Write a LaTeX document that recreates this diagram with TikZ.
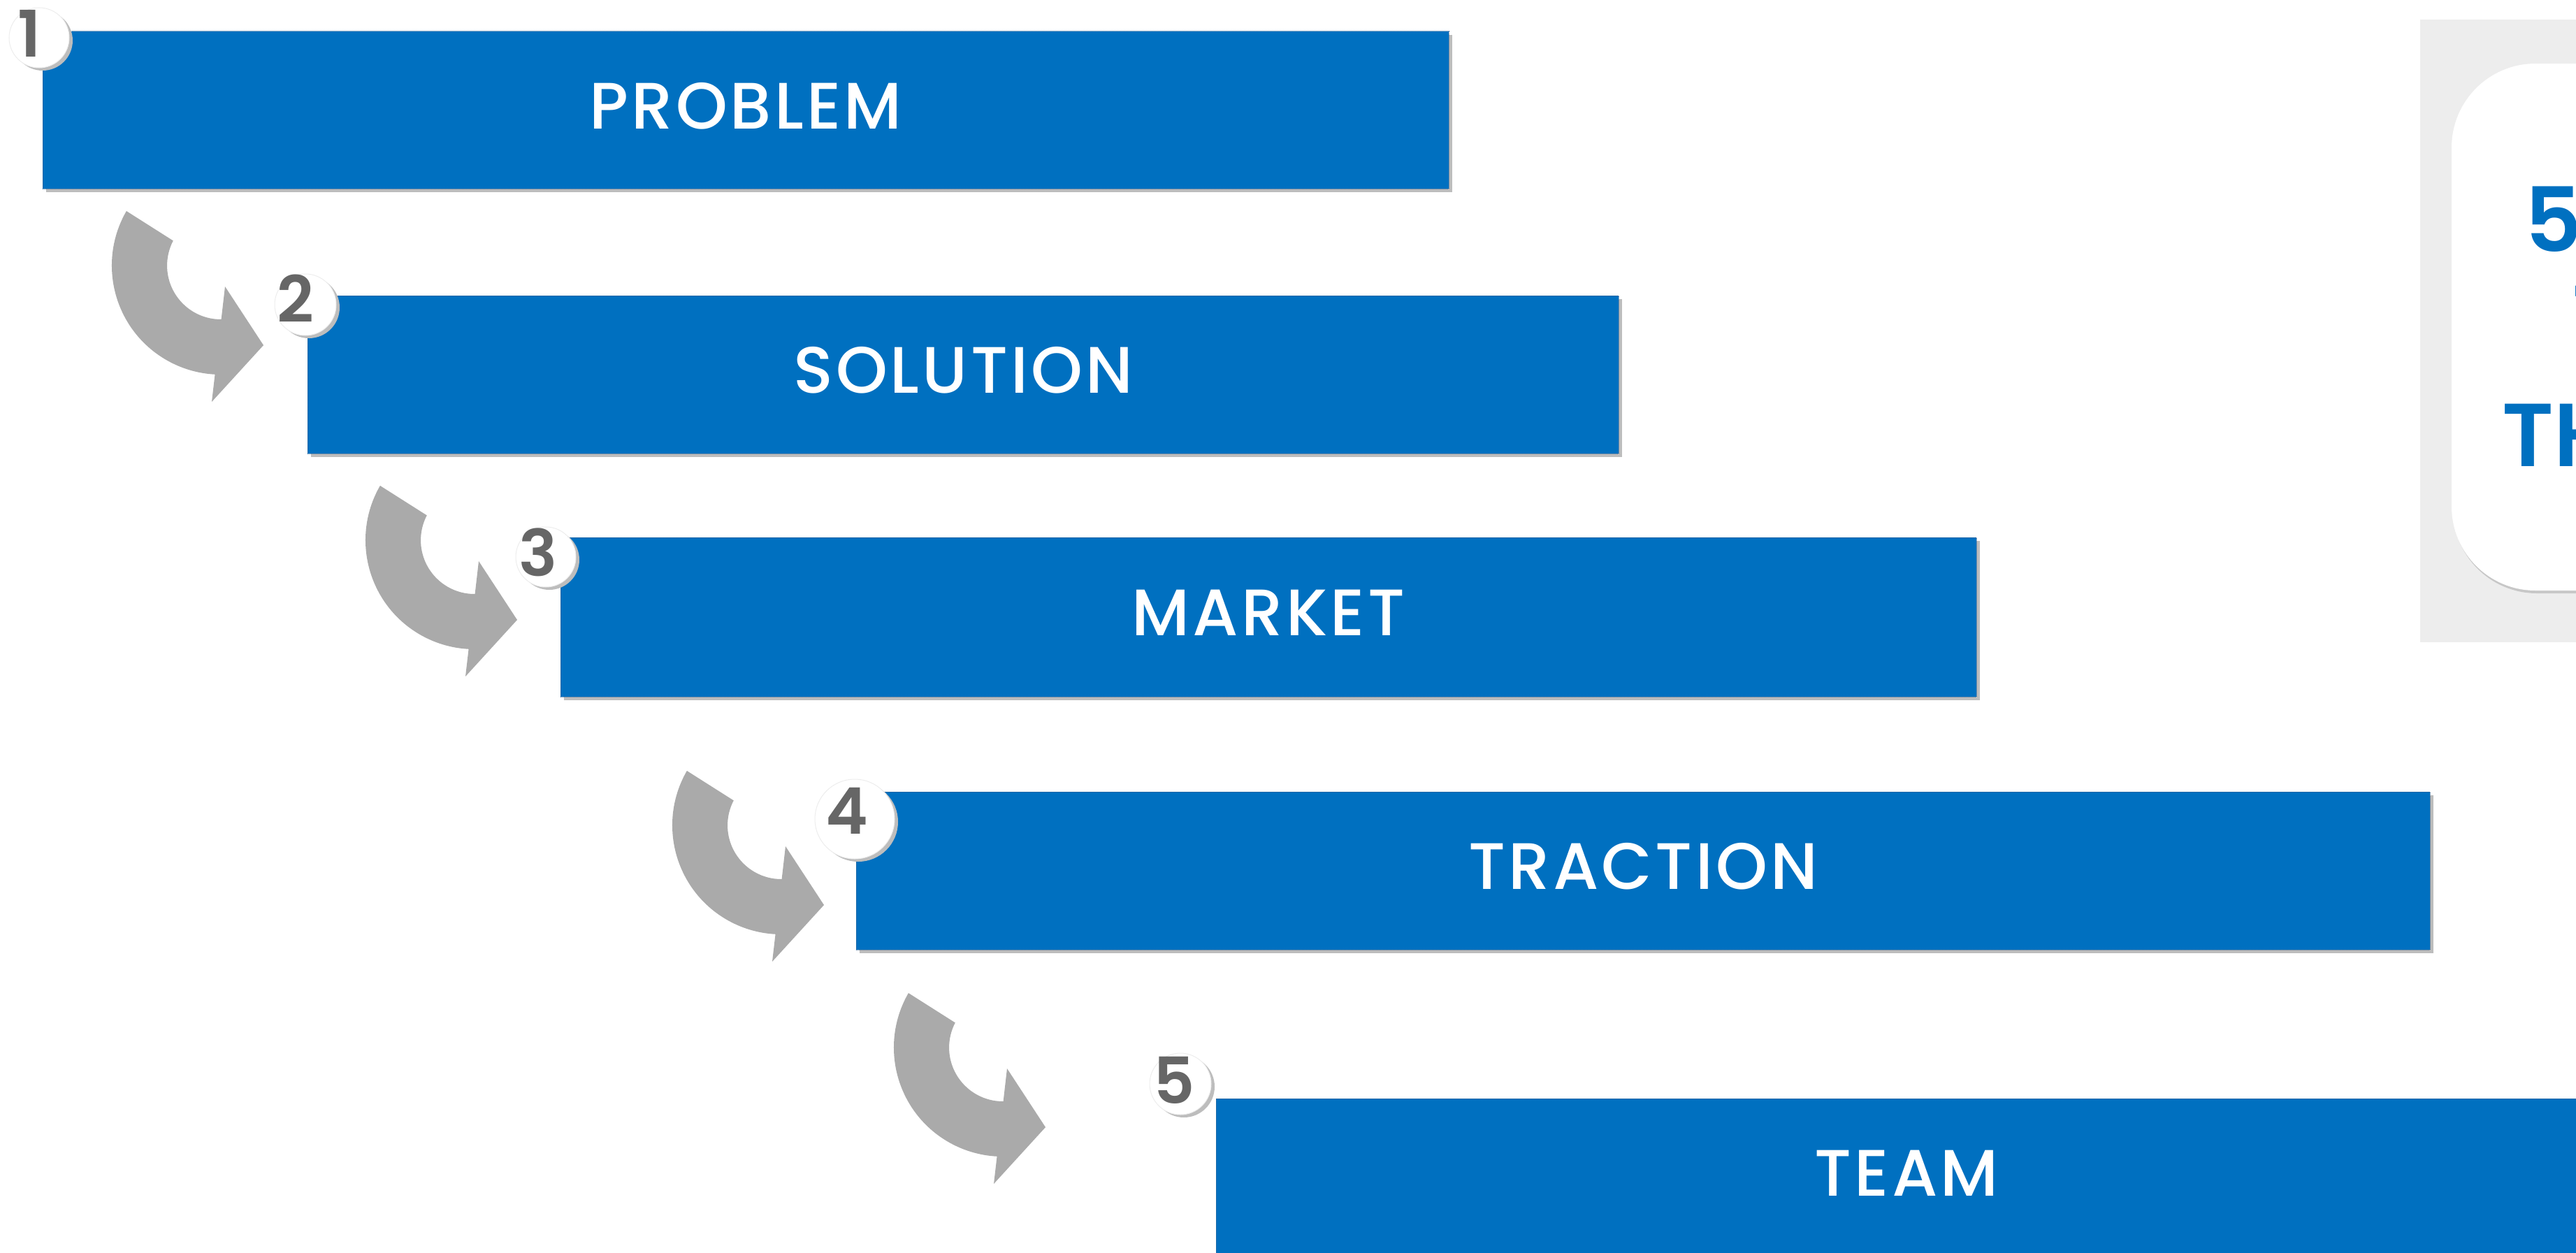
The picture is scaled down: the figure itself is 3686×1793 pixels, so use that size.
\documentclass[tikz,border=0pt]{standalone}
\usepackage{fontspec}
\setmainfont{Poppins}
\newfontfamily\popsemi{Poppins SemiBold}
\newfontfamily\popmed{Poppins Medium}[LetterSpace=4.5]
\usetikzlibrary{shadows}

\definecolor{barblue}{HTML}{0070C0}
\definecolor{baredge}{HTML}{2F5F8F}
\definecolor{arrowgray}{HTML}{AAAAAA}
\definecolor{numgray}{HTML}{666666}
\definecolor{shadegray}{HTML}{BDBDBD}
\definecolor{panelgray}{HTML}{EDEDED}

\tikzset{
  bar/.style={rectangle, fill=barblue, draw=baredge, densely dotted, line width=1pt,
    inner sep=0pt, outer sep=0pt,
    general shadow={fill=shadegray, draw=none, shadow xshift=5pt, shadow yshift=-5pt}},
  barlabel/.style={text=white, inner sep=0pt, yshift=6pt,
    font=\popmed\fontsize{94}{100}\selectfont},
  badge/.style={circle, fill=white, draw=black!7, line width=1pt, inner sep=0pt,
    general shadow={fill=shadegray, shadow xshift=5pt, shadow yshift=-4pt}},
  badgenum/.style={text=numgray, inner sep=0pt,
    font=\popsemi\fontsize{92}{96}\selectfont},
  boxtext/.style={text=barblue, inner sep=0pt, anchor=base west,
    font=\popsemi\fontsize{128}{130}\selectfont},
  curvearrow/.pic={
    \begin{scope}[yscale=-1]
      \fill[arrowgray] (150:156) arc[start angle=150, end angle=266.9, radius=156]
        -- (-13,-195) -- (61,-114) -- (6,-30) -- (0.6,-77)
        arc[start angle=270.4, end angle=152.5, radius=77] -- cycle;
    \end{scope}
  }
}

\begin{document}
\begin{tikzpicture}[x=1pt, y=-1pt]
\useasboundingbox (0,0) rectangle (3686,1793);

% side panel with its rounded card
\fill[panelgray] (3463,28) rectangle (3700,919);
\node[rectangle, rounded corners=120pt, fill=white, inner sep=0pt,
  minimum width=400pt, minimum height=754pt,
  general shadow={fill=black!22, shadow xshift=2pt, shadow yshift=-4pt}]
  (card) at (3708,468) {};
\node[boxtext] (cardA) at (3612,360) {5};
\node[boxtext] (cardB) at (3676,462) {-};
\node[boxtext] (cardC) at (3580,667) {TH};

% curved step arrows
\pic at (316,380) {curvearrow};
\pic at (679,773) {curvearrow};
\pic at (1118,1181) {curvearrow};
\pic at (1435,1499) {curvearrow};

% step bars
\node[bar, minimum width=2012pt, minimum height=225pt] (b1) at (1067,157.5) {};
\node[bar, minimum width=1876pt, minimum height=226pt] (b2) at (1378,536) {};
\node[bar, minimum width=2026pt, minimum height=228pt] (b3) at (1815,883) {};
\node[bar, minimum width=2252pt, minimum height=226pt] (b4) at (2351,1246) {};
\node[bar, minimum width=1976pt, minimum height=226pt] (b5) at (2728,1685) {};

\node[barlabel] (t1) at (b1.center) {PROBLEM};
\node[barlabel] (t2) at (b2.center) {SOLUTION};
\node[barlabel] (t3) at (b3.center) {MARKET};
\node[barlabel] (t4) at (b4.center) {TRACTION};
\node[barlabel] (t5) at (b5.center) {TEAM};

% numbered badges
\node[badge, minimum size=86pt] (c1) at (56,54) {};
\node[badge, minimum size=88pt] (c2) at (437,436) {};
\node[badge, minimum size=86pt] (c3) at (781,797) {};
\node[badge, minimum size=114pt] (c4) at (1223,1172) {};
\node[badge, minimum size=88pt] (c5) at (1689,1551) {};

\node[badgenum] (n1) at (42,48) {1};
\node[badgenum] (n2) at (423,427) {2};
\node[badgenum] (n3) at (770,790) {3};
\node[badgenum] (n4) at (1212,1160) {4};
\node[badgenum] (n5) at (1680,1546) {5};
\end{tikzpicture}
\end{document}
